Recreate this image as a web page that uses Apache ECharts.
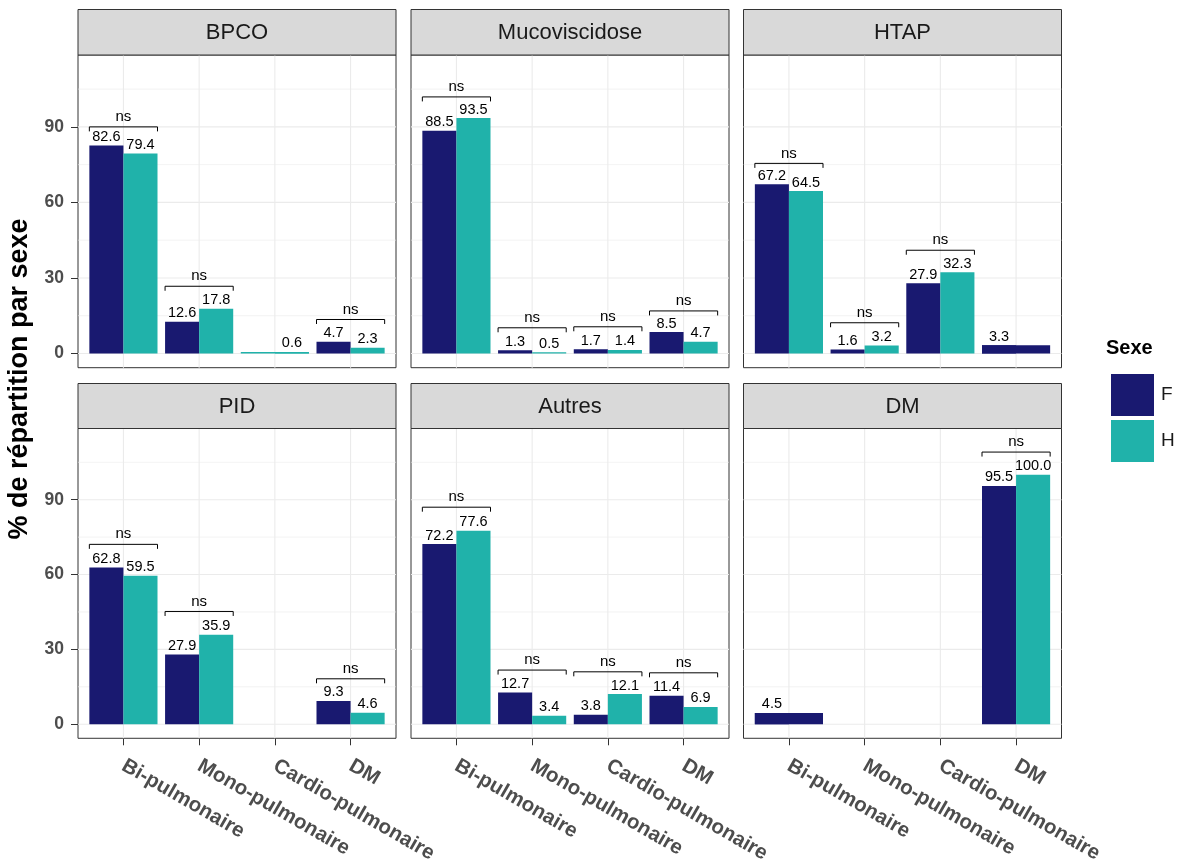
<!DOCTYPE html>
<html>
<head>
<meta charset="utf-8">
<script src="https://cdn.jsdelivr.net/npm/echarts@6/dist/echarts.min.js"></script>
<style>html,body{margin:0;padding:0;background:#fff}#c{width:1184px;height:866px}</style>
</head>
<body>
<div id="c"></div>
<script>
// ---------- data ----------
const categories = ['Bi-pulmonaire', 'Mono-pulmonaire', 'Cardio-pulmonaire', 'DM'];
const facets = ['BPCO', 'Mucoviscidose', 'HTAP', 'PID', 'Autres', 'DM'];
const sexes = ['F', 'H'];
const valuesF = [
  [82.6, 12.6, null, 4.7],
  [88.5, 1.3, 1.7, 8.5],
  [67.2, 1.6, 27.9, 3.3],
  [62.8, 27.9, null, 9.3],
  [72.2, 12.7, 3.8, 11.4],
  [4.5, null, null, 95.5]
];
const valuesH = [
  [79.4, 17.8, 0.6, 2.3],
  [93.5, 0.5, 1.4, 4.7],
  [64.5, 3.2, 32.3, null],
  [59.5, 35.9, null, 4.6],
  [77.6, 3.4, 12.1, 6.9],
  [null, null, null, 100.0]
];
// height (in %) of the significance brackets, null = no bracket
const bracketLevel = [
  [90.0, 26.7, null, 13.5],
  [101.9, 10.2, 10.6, 16.9],
  [75.5, 12.2, 41.0, null],
  [72.1, 45.2, null, 18.2],
  [87.0, 21.7, 21.0, 20.6],
  [null, null, null, 109.1]
];
const signifLabel = 'ns';
const yTicks = [0, 30, 60, 90];
const yMinor = [15, 45, 75, 105];
const yTitle = '% de répartition par sexe';
const legendTitle = 'Sexe';

// ---------- style / layout ----------
const FONT = '"Liberation Sans", Arial, sans-serif';
const colors = {F: '#191970', H: '#20B2AA'};
const colLeft = [78, 411, 743.5];
const panelW = 318;
const stripTop = [9.5, 383.5];
const stripH = [45.5, 45];
const gridTop = [55, 428.5];
const gridH = [312.7, 311.8];
const yMin = -5.65, yMax = 118.55;
const xMin = 0.4, xMax = 4.6;

const catPos = categories.map((_, i) => i + 1);
const grids = [], xAxes = [], yAxes = [], series = [], graphics = [];

function gridRender(params, api) {
  const cs = params.coordSys;
  const o = api.value(0), v = api.value(1), major = api.value(2);
  const lw = major ? 1.1 : 0.6;
  if (o === 0) {
    const y = api.coord([1, v])[1];
    return {type: 'line', shape: {x1: cs.x, y1: y, x2: cs.x + cs.width, y2: y},
      style: {stroke: '#EBEBEB', lineWidth: lw}, silent: true};
  }
  const x = api.coord([v, 0])[0];
  return {type: 'line', shape: {x1: x, y1: cs.y, x2: x, y2: cs.y + cs.height},
    style: {stroke: '#EBEBEB', lineWidth: lw}, silent: true};
}

function bracketRender(params, api) {
  const c = api.value(0), lvl = api.value(1);
  const pl = api.coord([c - 0.45, lvl]);
  const pr = api.coord([c + 0.45, lvl]);
  const d = 4.5;
  return {
    type: 'group',
    children: [
      {type: 'polyline', shape: {points: [[pl[0], pl[1] + d], [pl[0], pl[1]], [pr[0], pr[1]], [pr[0], pr[1] + d]]},
        style: {stroke: '#000', lineWidth: 1, fill: null}},
      {type: 'text', style: {text: signifLabel, x: (pl[0] + pr[0]) / 2, y: pl[1] - 2.5,
        textAlign: 'center', align: 'center', textVerticalAlign: 'bottom', verticalAlign: 'bottom',
        font: '15px ' + FONT, fill: '#000'}}
    ]
  };
}

facets.forEach((name, p) => {
  const r = Math.floor(p / 3), c = p % 3;
  const left = colLeft[c];
  grids.push({left: left, top: gridTop[r], width: panelW, height: gridH[r], show: true,
    borderColor: '#333333', borderWidth: 1, backgroundColor: '#fff', containLabel: false});
  const unit = panelW / (xMax - xMin);
  const barW = unit * 0.45;
  const bottomRow = r === 1;
  xAxes.push({type: 'value', gridIndex: p, min: xMin, max: xMax, show: bottomRow, position: 'bottom',
    axisLine: {show: false, onZero: false}, splitLine: {show: false},
    axisTick: {show: true, customValues: catPos, length: 7, lineStyle: {color: '#333333', width: 1}},
    axisLabel: {show: true, customValues: catPos, formatter: v => categories[Math.round(v) - 1],
      rotate: -30, fontSize: 20.5, fontWeight: 'bold', color: '#4D4D4D', fontFamily: FONT, margin: 26}});
  xAxes.push({type: 'value', gridIndex: p, min: xMin, max: xMax, show: false,
    axisLine: {onZero: false}});
  yAxes.push({type: 'value', gridIndex: p, min: yMin, max: yMax, show: c === 0,
    axisLine: {show: false, onZero: false}, splitLine: {show: false},
    axisTick: {show: true, customValues: yTicks, length: 7, lineStyle: {color: '#333333', width: 1}},
    axisLabel: {show: true, customValues: yTicks, fontSize: 17.5, fontWeight: 'bold', color: '#4D4D4D',
      fontFamily: FONT, margin: 14}});

  // grid lines
  const gl = [];
  yTicks.forEach(v => gl.push([0, v, 1]));
  yMinor.forEach(v => gl.push([0, v, 0]));
  catPos.forEach(v => gl.push([1, v, 1]));
  series.push({type: 'custom', name: 'grid' + p, xAxisIndex: 2 * p, yAxisIndex: p, z: 1, silent: true,
    renderItem: gridRender, data: gl, animation: false});

  const lbl = {show: true, position: 'top', distance: 1, fontSize: 14.5, color: '#000', fontFamily: FONT,
    formatter: d => d.value[1].toFixed(1)};
  [['F', valuesF[p]], ['H', valuesH[p]]].forEach(([sx, vals]) => {
    series.push({type: 'bar', name: sx, xAxisIndex: 2 * p, yAxisIndex: p, barWidth: barW, barGap: '0%',
      itemStyle: {color: colors[sx]}, label: lbl, z: 2, animation: false,
      data: vals.map((v, i) => v == null ? null : [i + 1, v]).filter(Boolean)});
  });
  // single-sex groups: one bar takes the full dodge width
  const full = [];
  categories.forEach((_, i) => {
    const f = valuesF[p][i], h = valuesH[p][i];
    if (f != null && h == null) full.push({value: [i + 1, f], itemStyle: {color: colors.F}});
    if (h != null && f == null) full.push({value: [i + 1, h], itemStyle: {color: colors.H}});
  });
  series.push({type: 'bar', name: 'single' + p, xAxisIndex: 2 * p + 1, yAxisIndex: p, barWidth: barW * 2,
    z: 2, animation: false, data: full});

  // brackets
  const br = [];
  bracketLevel[p].forEach((lv, i) => { if (lv != null) br.push([i + 1, lv]); });
  series.push({type: 'custom', name: 'br' + p, xAxisIndex: 2 * p, yAxisIndex: p, z: 3, silent: true,
    renderItem: bracketRender, data: br, animation: false});

  // strip
  graphics.push({type: 'rect', shape: {x: left, y: stripTop[r], width: panelW, height: stripH[r]},
    style: {fill: '#D9D9D9', stroke: '#333333', lineWidth: 1}, z: 10});
  graphics.push({type: 'text', x: left + panelW / 2, y: stripTop[r] + stripH[r] / 2 + 1,
    style: {text: name, font: '22px ' + FONT, fill: '#1A1A1A', textAlign: 'center', align: 'center',
      textVerticalAlign: 'middle', verticalAlign: 'middle'}, z: 11});
});

graphics.push({type: 'text', x: 20, y: 379, rotation: Math.PI / 2,
  style: {text: yTitle, font: 'bold 27px ' + FONT, fill: '#000', textAlign: 'center', align: 'center',
    textVerticalAlign: 'middle', verticalAlign: 'middle'}});
graphics.push({type: 'text', x: 1106, y: 348,
  style: {text: legendTitle, font: 'bold 20px ' + FONT, fill: '#000', textAlign: 'left', align: 'left',
    textVerticalAlign: 'middle', verticalAlign: 'middle'}});

const chart = echarts.init(document.getElementById('c'), null, {renderer: 'canvas'});
chart.setOption({
  animation: false,
  textStyle: {fontFamily: FONT},
  grid: grids,
  xAxis: xAxes,
  yAxis: yAxes,
  legend: {data: sexes, orient: 'vertical', left: 1106, top: 369, itemWidth: 43, itemHeight: 42, itemGap: 4,
    icon: 'rect', selectedMode: false,
    textStyle: {fontSize: 19, color: '#1A1A1A', fontFamily: FONT, padding: [0, 0, 0, 2]}},
  series: series,
  graphic: graphics
});
</script>
</body>
</html>
